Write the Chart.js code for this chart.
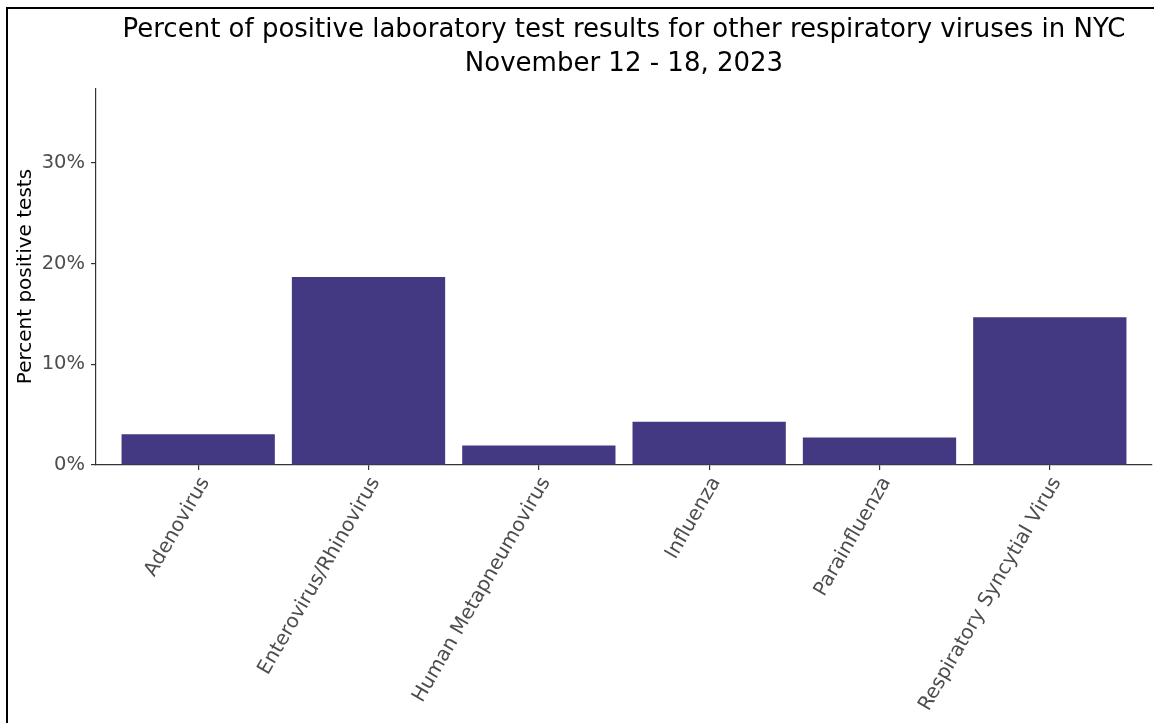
<!DOCTYPE html>
<html>
<head>
<meta charset="utf-8">
<script src="https://cdn.jsdelivr.net/npm/chart.js@4"></script>
<style>
    html, body { margin: 0; padding: 0; background: #fff; }
    #wrap { position: relative; width: 1154px; height: 723px; overflow: hidden; }
    #frame { position: absolute; left: 6px; top: 7px; width: 1300px; height: 900px; border: 2px solid #000; box-sizing: border-box; }
    canvas { position: absolute; left: 0; top: 0; }
</style>
</head>
<body>
<div id="wrap">
    <div id="frame"></div>
    <canvas id="chart" width="1154" height="723"></canvas>
</div>
<script>
// data
const viruses = ['Adenovirus', 'Enterovirus/Rhinovirus', 'Human Metapneumovirus', 'Influenza', 'Parainfluenza', 'Respiratory Syncytial Virus'];
const percentPositive = [3.05, 18.66, 1.93, 4.3, 2.72, 14.67];
const yTicks = [0, 10, 20, 30];

const font = "'DejaVu Sans', sans-serif";

/**
 * Bar chart of percent positive tests per virus
 */
const renderChart = () => {
    const ctx = document.getElementById('chart').getContext('2d');

    new Chart(ctx, {
        type: 'bar',
        data: {
            datasets: [{
                data: viruses.map((v, i) => ({ x: i + 1, y: percentPositive[i] })),
                backgroundColor: '#433982',
                borderWidth: 0,
                categoryPercentage: 0.9,
                barPercentage: 1.0
            }]
        },
        options: {
            responsive: false,
            animation: false,
            layout: { padding: { left: 0, right: 2, top: 0, bottom: 0 } },
            plugins: {
                legend: { display: false },
                tooltip: { enabled: false },
                title: {
                    display: true,
                    fullSize: false,
                    text: ['Percent of positive laboratory test results for other respiratory viruses in NYC', 'November 12 - 18, 2023'],
                    color: '#000',
                    font: { family: font, size: 26, weight: 'normal', lineHeight: 1.31 },
                    padding: { top: 13, bottom: 7 }
                }
            },
            scales: {
                x: {
                    type: 'linear',
                    min: 0.4,
                    max: 6.6,
                    offset: false,
                    afterBuildTicks: (scale) => { scale.ticks = viruses.map((v, i) => ({ value: i + 1 })); },
                    afterFit: (scale) => { scale.height = 258; },
                    grid: { display: true, offset: false, drawOnChartArea: false, drawTicks: true, tickLength: 5, color: '#333', lineWidth: 1.2 },
                    border: { display: true, color: '#333', width: 1.2 },
                    ticks: {
                        autoSkip: false,
                        maxRotation: 60,
                        minRotation: 60,
                        padding: 3,
                        labelOffset: 7,
                        color: '#4d4d4d',
                        font: { family: font, size: 19.8 },
                        callback: (value) => viruses[value - 1] ?? ''
                    }
                },
                y: {
                    min: 0,
                    max: 37.4,
                    afterBuildTicks: (scale) => { scale.ticks = yTicks.map(v => ({ value: v })); },
                    afterFit: (scale) => { scale.width = 96; },
                    grid: { display: true, drawOnChartArea: false, drawTicks: true, tickLength: 5, color: '#333', lineWidth: 1.2 },
                    border: { display: true, color: '#333', width: 1.2 },
                    title: {
                        display: true,
                        text: 'Percent positive tests',
                        color: '#000',
                        font: { family: font, size: 20 },
                        padding: { top: 14, bottom: 0 }
                    },
                    ticks: {
                        padding: 6,
                        color: '#4d4d4d',
                        font: { family: font, size: 19.5 },
                        callback: (value) => value + '%'
                    }
                }
            }
        }
    });
};

renderChart();
</script>
</body>
</html>
